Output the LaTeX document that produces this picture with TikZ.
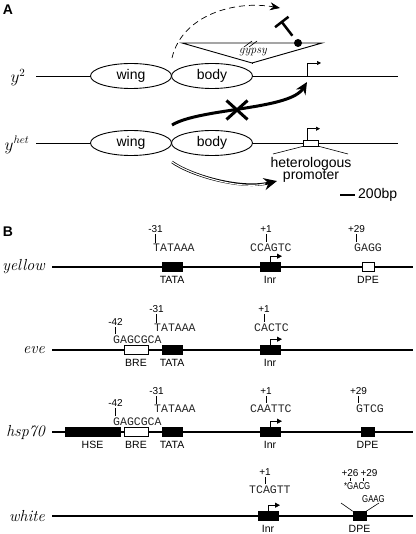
\documentclass[tikz,border=0pt]{standalone}
\usepackage{fontspec}
\setsansfont{Liberation Sans}
\setmonofont{Liberation Mono}
\usetikzlibrary{positioning,shapes.geometric,shapes.misc,arrows.meta}

\newcommand{\narrowseq}[1]{\scalebox{0.78}[1]{#1}}

\begin{document}
\begin{tikzpicture}[x=1pt, y=-1pt,
    gene/.style={ellipse, draw, fill=white, line width=0.9pt, minimum width=81pt, minimum height=25pt, inner sep=0pt, font=\sffamily\fontsize{14}{14}\selectfont},
    blk/.style={draw, fill=black, minimum width=20pt, minimum height=9pt, inner sep=0pt, line width=0.6pt},
    wht/.style={blk, fill=white},
    elt/.style={font=\sffamily\fontsize{10.5}{12}\selectfont, inner sep=1pt},
    num/.style={font=\sffamily\fontsize{10}{11}\selectfont, inner sep=1pt},
    seq/.style={font=\ttfamily\fontsize{11.5}{12}\selectfont, inner sep=1pt, anchor=west, text=black!85},
    nseq/.style={font=\sffamily\fontsize{10}{11}\selectfont, inner sep=1pt, anchor=west},
    gname/.style={font=\itshape\fontsize{16}{16}\selectfont, anchor=east, inner sep=0pt},
    big/.style={font=\sffamily\fontsize{14}{14}\selectfont},
    chrom/.style={line width=0.9pt},
    dna/.style={line width=1.8pt},
    tss/.style={-{Triangle[length=5pt, width=5pt]}, line width=0.8pt},
    tick/.style={line width=0.6pt, shorten <=0.5pt, shorten >=0.5pt}]
\useasboundingbox (0,0) rectangle (415,534);

% panel A
\node (A) at (8,10) [font=\sffamily\bfseries\fontsize{14}{14}\selectfont] {A};

\node (y2) at (18,78) [font=\fontsize{16}{16}\selectfont] {$y^2$};
\coordinate (y2s) at (36,76);
\coordinate (y2e) at (398,76);
\draw[chrom] (y2s) -- (y2e);
\node (wing2) at (131,76) [gene] {wing};
\node (body2) at (212,76) [gene] {body};

\coordinate (gl) at (182,43);
\coordinate (gr) at (322,43);
\coordinate (gb) at (252,63);
\draw[chrom] (gl) -- (gr) -- (gb) -- cycle;
\draw[chrom] (gb) -- (gb |- body2.north);
\node (gypsy) at (253,52) [font=\itshape\fontsize{12}{12}\selectfont, inner sep=0pt] {gypsy};
\draw[line width=0.6pt] (244,47) -- ++(8,-6) (249,47) -- ++(8,-6);
\node (ins) at (298,43) [circle, fill, inner sep=0pt, minimum size=8pt] {};
\coordinate (bar) at (281,21);
\draw[line width=2.5pt, shorten <=5pt, -{Bar[width=17pt]}] (ins) -- (bar);

\coordinate (ds) at (172,58);
\coordinate (de) at (280,8);
\draw[dash pattern=on 6pt off 4pt, line width=0.7pt, -{Stealth[length=10pt, width=8pt]}] (ds) .. controls (182,15) and (235,0) .. (de);

\coordinate (tss2) at (307,76);
\draw[line width=0.6pt, -{Triangle[length=4pt, width=4pt]}] (tss2) |- ++(14,-13);

\coordinate (ts) at (172,125);
\coordinate (te) at (307,82);
\draw[line width=3pt, -{Stealth[length=12pt, width=11pt]}] (ts) .. controls (200,108) and (290,110) .. (te);
\node (blkx) at (237,110) [cross out, draw, line width=3pt, minimum width=18pt, minimum height=16pt, inner sep=0pt] {};

\node (yh) at (17,145) [font=\fontsize{16}{16}\selectfont] {$y^{het}$};
\coordinate (yhs) at (36,143);
\coordinate (yhe) at (398,143);
\draw[chrom] (yhs) -- (yhe);
\node (wingh) at (131,143) [gene] {wing};
\node (bodyh) at (212,143) [gene] {body};
\node (prom) at (311,143) [draw, fill=white, minimum width=15pt, minimum height=6pt, inner sep=0pt, line width=0.6pt] {};
\draw[line width=0.6pt, -{Triangle[length=4pt, width=4pt]}] ([xshift=-4pt]prom.north) |- ++(13,-11);
\node (het) at (311,170) [big, align=center, inner sep=0pt, font=\sffamily\fontsize{14}{12.5}\selectfont] {heterologous\\promoter};
\coordinate (hl) at (273,154);
\coordinate (hr) at (348,154);
\draw[line width=0.6pt] (prom.south west) -- (hl) (prom.south east) -- (hr);

\coordinate (os) at (172,162);
\coordinate (oe) at (277,181);
\draw[line width=2.6pt, -{Stealth[length=13pt, width=12pt]}] (os) .. controls (190,175) and (240,190) .. (oe);
\draw[white, line width=1.1pt, shorten <=-0.5pt, shorten >=12pt] (os) .. controls (190,175) and (240,190) .. (oe);

\node (bp) at (355,195) [big, anchor=west, inner sep=3pt] {200bp};
\coordinate (sb) at (340,195);
\draw[line width=1.2pt] (sb) -- (bp.west);

% panel B
\node (B) at (8,232) [font=\sffamily\bfseries\fontsize{14}{14}\selectfont] {B};

% yellow
\node (yel) at (45,267) [gname] {yellow};
\coordinate (yels) at (52,267);
\coordinate (yele) at (413,267);
\draw[dna] (yels) -- (yele);
\node (yTATA) at (172,267) [blk] {};
\node (yInr) at (270,267) [blk] {};
\node (yDPE) at (368,267) [wht, minimum width=12pt] {};
\node (yTATAl) [elt, below=3pt of yTATA] {TATA};
\node (yInrl) [elt, below=3pt of yInr] {Inr};
\node (yDPEl) [elt, below=3pt of yDPE] {DPE};
\draw[tss] (yInr.north) |- ++(12,-6);
\node (yTATAn) at (155.5,229) [num] {-31};
\node (yTATAs) at (152,248) [seq] {TATAAA};
\draw[tick] (yTATAn) -- (yTATAn |- yTATAs.north);
\node (yInrn) at (266,229) [num] {+1};
\node (yInrs) at (249,248) [seq] {CCAGTC};
\draw[tick] (yInrn) -- (yInrn |- yInrs.north);
\node (yDPEn) at (356.5,229) [num] {+29};
\node (yDPEs) at (353,248) [seq] {GAGG};
\draw[tick] (yDPEn) -- (yDPEn |- yDPEs.north);

% eve
\node (eve) at (45,350) [gname] {eve};
\coordinate (eves) at (52,350);
\coordinate (evee) at (413,350);
\draw[dna] (eves) -- (evee);
\node (eBRE) at (136,350) [wht, minimum width=24pt] {};
\node (eTATA) at (172,350) [blk] {};
\node (eInr) at (270,350) [blk] {};
\node (eBREl) [elt, below=3pt of eBRE] {BRE};
\node (eTATAl) [elt, below=3pt of eTATA] {TATA};
\node (eInrl) [elt, below=3pt of eInr] {Inr};
\draw[tss] (eInr.north) |- ++(12,-6);
\node (eBREn) at (115.5,322) [num] {-42};
\node (eBREs) at (112,340) [seq] {GAGCGCA};
\draw[tick] (eBREn) -- (eBREn |- eBREs.north);
\node (eTATAn) at (156.5,309) [num] {-31};
\node (eTATAs) at (153,328) [seq] {TATAAA};
\draw[tick] (eTATAn) -- (eTATAn |- eTATAs.north);
\node (eInrn) at (264,309) [num] {+1};
\node (eInrs) at (253,328) [seq] {CACTC};
\draw[tick] (eInrn) -- (eInrn |- eInrs.north);

% hsp70
\node (hsp) at (45,432) [gname] {hsp70};
\coordinate (hsps) at (52,432);
\coordinate (hspe) at (413,432);
\draw[dna] (hsps) -- (hspe);
\node (hHSE) at (92.5,432) [blk, minimum width=55pt] {};
\node (hBRE) at (136,432) [wht, minimum width=24pt] {};
\node (hTATA) at (172,432) [blk] {};
\node (hInr) at (270,432) [blk] {};
\node (hDPE) at (367.5,432) [blk, minimum width=13pt] {};
\node (hHSEl) [elt, below=3pt of hHSE] {HSE};
\node (hBREl) [elt, below=3pt of hBRE] {BRE};
\node (hTATAl) [elt, below=3pt of hTATA] {TATA};
\node (hInrl) [elt, below=3pt of hInr] {Inr};
\node (hDPEl) [elt, below=3pt of hDPE] {DPE};
\draw[tss] (hInr.north) |- ++(12,-6);
\node (hBREn) at (115.5,403) [num] {-42};
\node (hBREs) at (112,422) [seq] {GAGCGCA};
\draw[tick] (hBREn) -- (hBREn |- hBREs.north);
\node (hTATAn) at (156.5,391) [num] {-31};
\node (hTATAs) at (153,409) [seq] {TATAAA};
\draw[tick] (hTATAn) -- (hTATAn |- hTATAs.north);
\node (hInrn) at (266,391) [num] {+1};
\node (hInrs) at (249,409) [seq] {CAATTC};
\draw[tick] (hInrn) -- (hInrn |- hInrs.north);
\node (hDPEn) at (358.5,391) [num] {+29};
\node (hDPEs) at (355,409) [seq] {GTCG};
\draw[tick] (hDPEn) -- (hDPEn |- hDPEs.north);

% white
\node (wht) at (45,516) [gname] {white};
\coordinate (whts) at (52,516);
\coordinate (whte) at (413,516);
\draw[dna] (whts) -- (whte);
\node (wInr) at (268,516) [blk] {};
\node (wDPE) at (359.5,516) [blk, minimum width=13pt] {};
\node (wInrl) [elt, below=3pt of wInr] {Inr};
\node (wDPEl) [elt, below=3pt of wDPE] {DPE};
\draw[tss] (wInr.north) |- ++(12,-6);
\node (wInrn) at (265,472) [num] {+1};
\node (wInrs) at (248,490) [seq] {TCAGTT};
\draw[tick] (wInrn) -- (wInrn |- wInrs.north);
\node (wn26) at (350,473) [num] {+26};
\node (wn29) at (369,473) [num] {+29};
\node (wDPEs1) at (343,486) [nseq] {\narrowseq{*GACG}};
\node (wDPEs2) at (361,499) [nseq] {\narrowseq{GAAG}};
\draw[tick] (wn26) -- (wn26 |- wDPEs1.north);
\draw[tick] ([xshift=-6pt]wn29.south) -- ([xshift=-6pt]wn29.south |- wDPEs1.north);
\coordinate (wl) at (341,503);
\coordinate (wr) at (379,503);
\draw[line width=0.6pt] (wDPE.north west) -- (wl) (wDPE.north east) -- (wr);
\end{tikzpicture}
\end{document}
